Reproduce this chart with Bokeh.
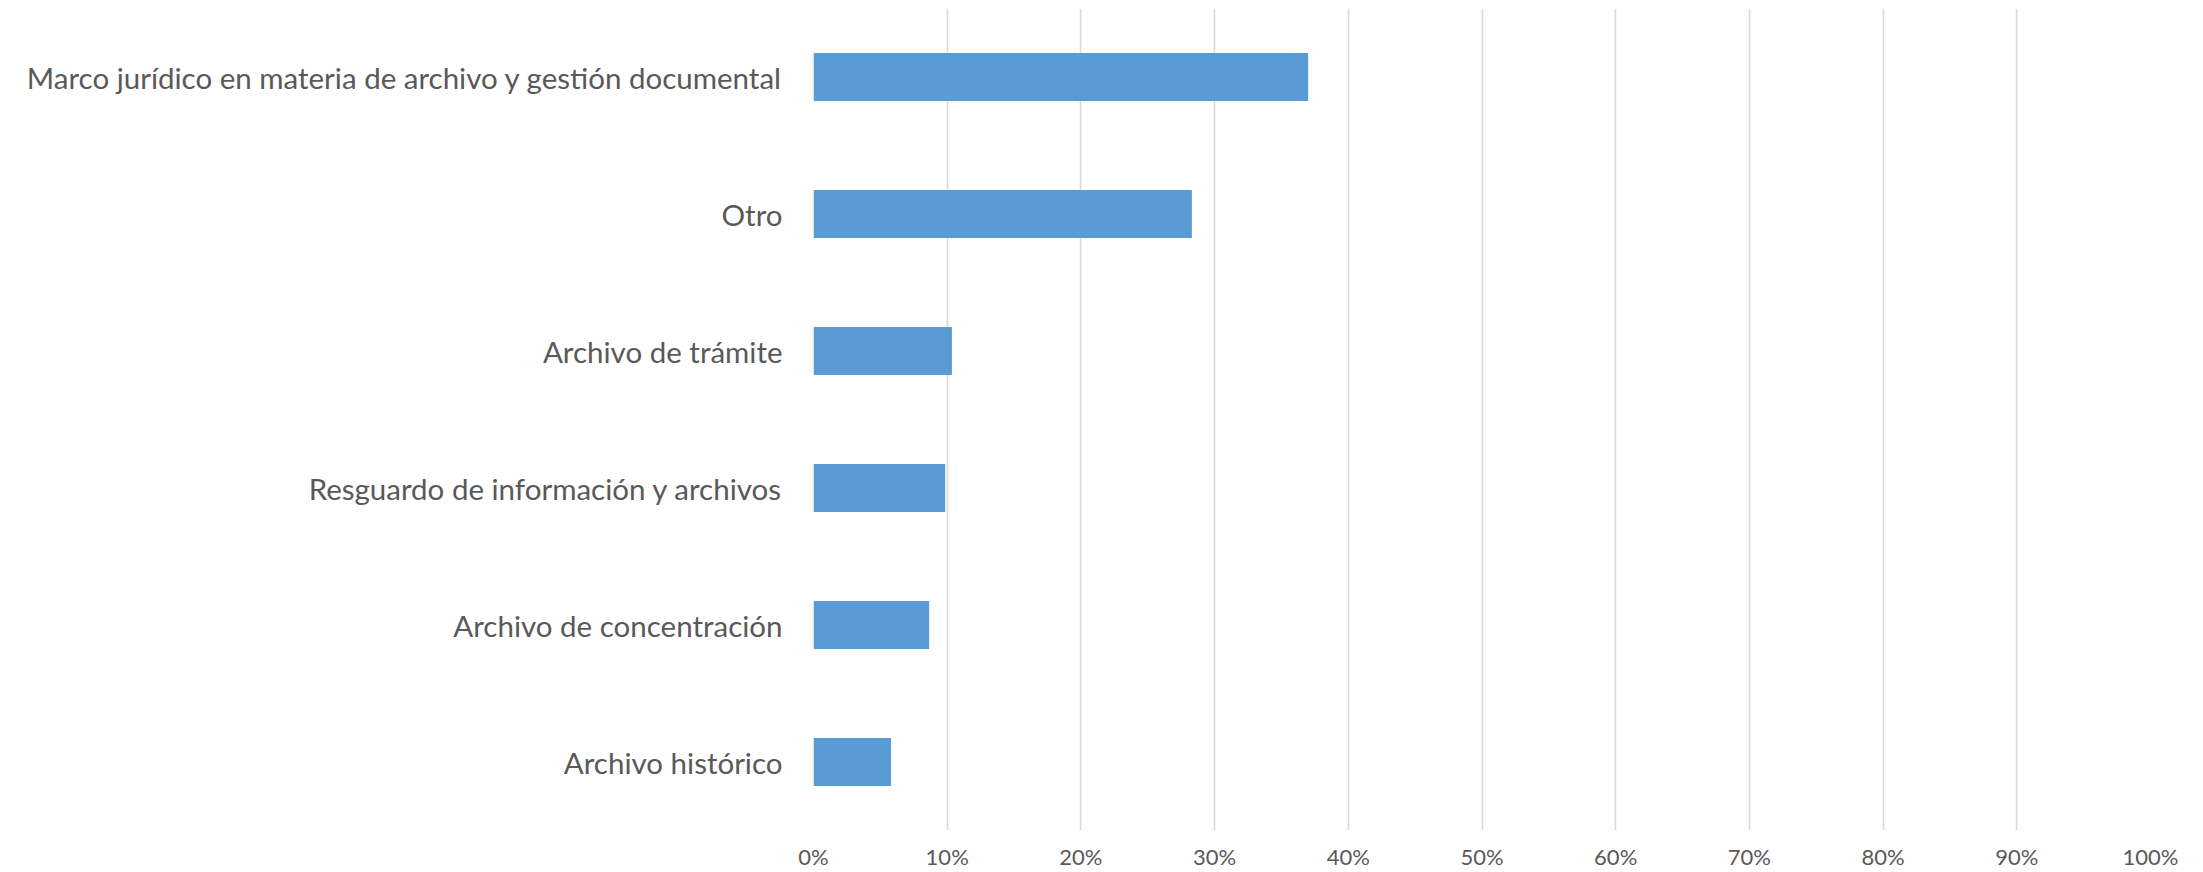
from bokeh.plotting import figure
from bokeh.models import ColumnDataSource, FixedTicker, PrintfTickFormatter, Range1d, FactorRange
from bokeh.embed import file_html
from bokeh.resources import INLINE

categories = [
    "Archivo histórico",
    "Archivo de concentración",
    "Resguardo de información y archivos",
    "Archivo de trámite",
    "Otro",
    "Marco jurídico en materia de archivo y gestión documental",
]
values = [5.8, 8.65, 9.85, 10.35, 28.3, 37.0]
x_ticks = [0, 10, 20, 30, 40, 50, 60, 70, 80, 90, 100]

src = ColumnDataSource(dict(cat=categories, val=values))

p = figure(
    width=2187, height=872,
    y_range=FactorRange(*categories, range_padding=0),
    x_range=Range1d(0, 100),
    output_backend="svg", toolbar_location=None,
    min_border_left=813, min_border_right=37, min_border_top=8, min_border_bottom=26,
)
p.hbar(y="cat", right="val", left=0, height=0.35, source=src,
       fill_color="#5B9BD5", line_color=None)

p.outline_line_color = None
p.background_fill_color = "white"
p.border_fill_color = "white"

p.ygrid.grid_line_color = None
p.xgrid.grid_line_color = "#D9D9D9"
p.xgrid.grid_line_width = 1.6
p.xaxis.ticker = FixedTicker(ticks=x_ticks)
p.xaxis.formatter = PrintfTickFormatter(format="%d%%")
p.xaxis.axis_line_color = None
p.xaxis.major_tick_line_color = None
p.xaxis.minor_tick_line_color = None
p.xaxis.major_label_text_font = "Lato"
p.xaxis.major_label_text_font_size = "22px"
p.xaxis.major_label_text_color = "#595959"
p.xaxis.major_label_standoff = 6

p.yaxis.axis_line_color = None
p.yaxis.major_tick_line_color = None
p.yaxis.minor_tick_line_color = None
p.yaxis.major_label_text_font = "Lato"
p.yaxis.major_label_text_font_size = "29.5px"
p.yaxis.major_label_text_color = "#595959"
p.yaxis.major_label_standoff = 25

open("out.html", "w").write(file_html(p, INLINE))
